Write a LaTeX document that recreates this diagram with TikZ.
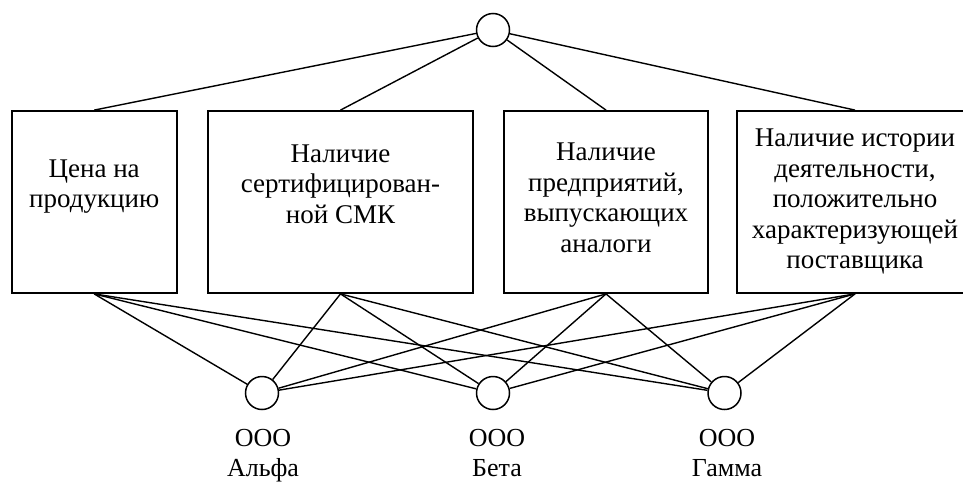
\documentclass[tikz,border=0pt]{standalone}
\usepackage{fontspec}
\setmainfont{Liberation Serif}
\tikzset{
  critbox/.style={draw, line width=1.8pt, minimum height=182pt, inner sep=0pt},
  crittext/.style={align=center, inner sep=0pt, font=\fontsize{27}{30.5}\selectfont},
  vert/.style={circle, draw, line width=1.5pt, minimum size=33pt, inner sep=0pt, fill=white},
  firm/.style={align=center, inner sep=0pt, anchor=north, font=\fontsize{26}{30}\selectfont},
  link/.style={line width=1.4pt}
}
% name, x, width, y of text, text
\newcommand{\criterion}[5]{ \node[critbox, minimum width=#3pt] (#1) at (#2,202) {}; \node[crittext] (#1t) at (#2,#4) {#5};}

\begin{document}
\begin{tikzpicture}[x=1pt,y=-1pt]
        \useasboundingbox (0,0) rectangle (963,482);
        % goal
        \node[vert] (top) at (493,30) {};
        % criteria
        \criterion{c1}{94.2}{165}{186.5}{Цена на\\продукцию}
        \criterion{c2}{340.5}{265}{184}{Наличие\\сертифицирован-\\ной СМК}
        \criterion{c3}{606}{204}{198}{Наличие\\предприятий,\\выпускающих\\аналоги}
        \criterion{c4}{855}{236}{201.5}{Наличие истории\\деятельности,\\положительно\\характеризующей\\поставщика}
        % suppliers
        \node[vert] (alpha) at (262,393) {};
        \node[vert] (beta) at (493,393) {};
        \node[vert] (gamma) at (724.5,393) {};
        \node[firm] (alphat) at (263,429) {ООО\\Альфа};
        \node[firm] (betat) at (497,429) {ООО\\Бета};
        \node[firm] (gammat) at (727,429) {ООО\\Гамма};
        % links
        \foreach \c in {c1,c2,c3,c4} {
            \draw[link] (top) -- (\c.north);
            \foreach \f in {alpha,beta,gamma}
                \draw[link] (\c.south) -- (\f);
        }
    \end{tikzpicture}
\end{document}
